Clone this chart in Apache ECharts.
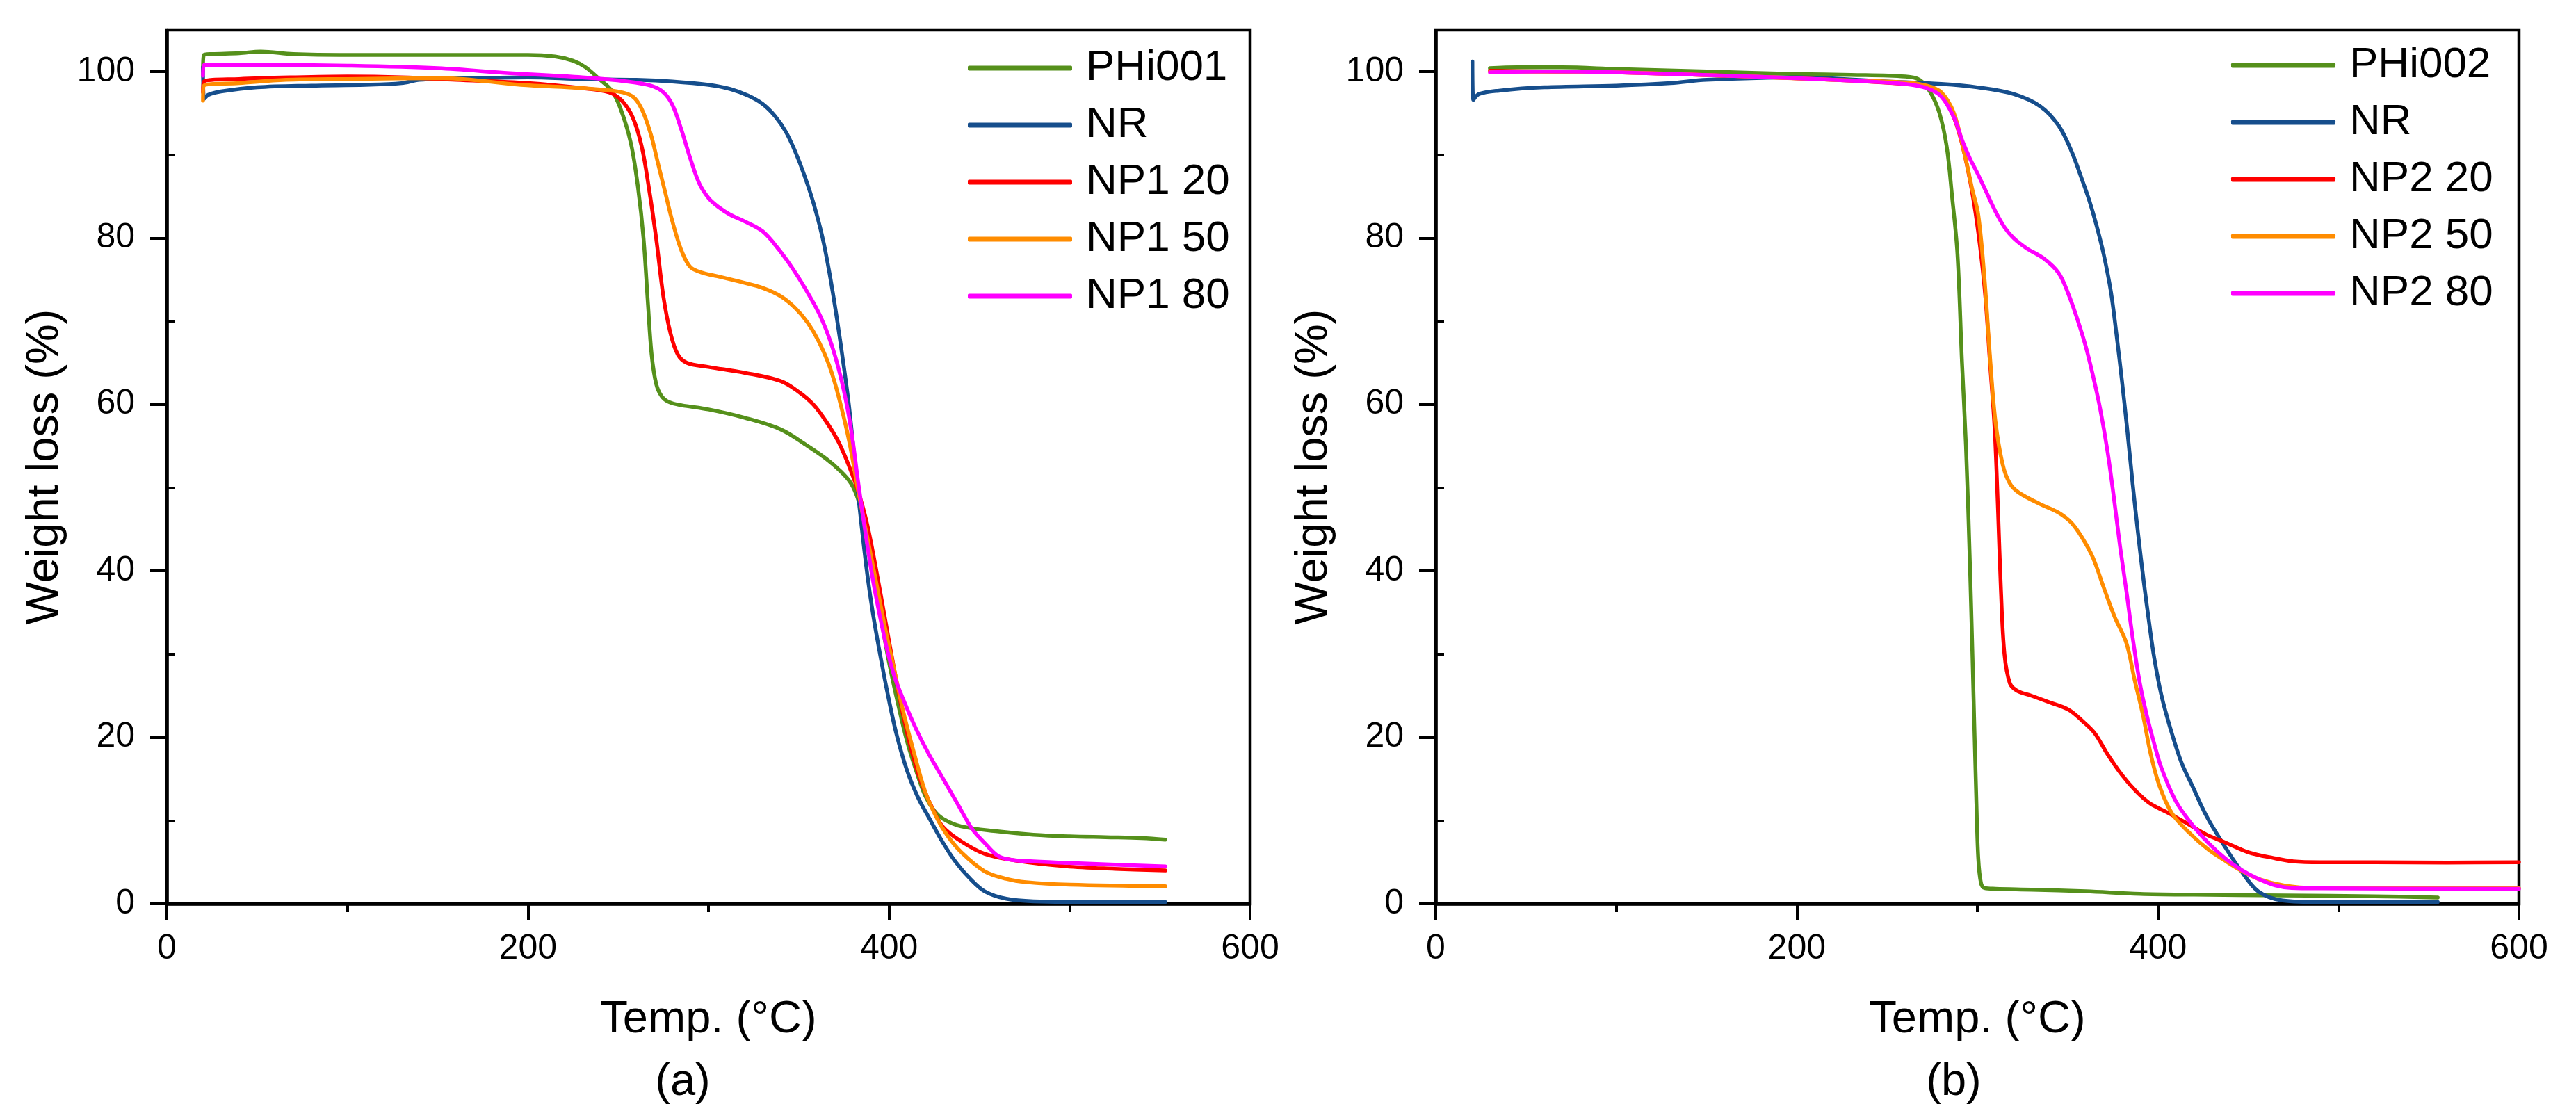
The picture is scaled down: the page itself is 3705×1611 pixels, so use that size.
<!DOCTYPE html>
<html>
<head>
<meta charset="utf-8">
<script src="https://cdn.jsdelivr.net/npm/echarts@6/dist/echarts.min.js"></script>
<style>
html,body{margin:0;padding:0;background:#fff;}
#chart{width:3705px;height:1611px;}
</style>
</head>
<body>
<div id="chart"></div>
<script>
// ---------- Panel (a) ----------
const a_PHi001_T = [20, 20.5, 25, 40, 52, 70, 100, 150, 200, 215, 225, 232, 240, 246, 251, 257, 261, 264, 266.5, 268.5, 271, 274, 278, 285, 300, 320, 340, 355, 365, 373, 379, 383, 387, 391, 395, 400, 405, 410, 415, 420, 425, 430, 440, 460, 480, 500, 520, 540, 553];
const a_PHi001_W = [100, 102, 102.1, 102.2, 102.4, 102.1, 102.0, 102.0, 102.0, 101.8, 101.3, 100.5, 99, 97.8, 95.7, 91.4, 86, 80, 72, 66, 62.5, 61, 60.3, 59.9, 59.4, 58.4, 57, 55, 53.5, 52, 50.5, 48.5, 45, 40, 35, 29, 24, 19.5, 16, 13, 11.2, 10.2, 9.3, 8.7, 8.3, 8.1, 8.0, 7.9, 7.7];

const a_NR_T = [20, 20.6, 23, 30, 50, 80, 110, 130, 140, 170, 200, 230, 260, 280, 300, 312, 322, 330, 337, 343, 348, 353, 358, 363, 367, 371, 375, 378, 382, 385, 388, 391, 394.6, 399, 404, 410, 416, 423, 430, 437, 445, 453, 465, 480, 520, 553];
const a_NR_W = [100.5, 96.7, 97.2, 97.6, 98.1, 98.3, 98.4, 98.6, 99, 99.2, 99.3, 99.1, 99, 98.8, 98.4, 97.9, 97.1, 96.1, 94.6, 92.7, 90.4, 87.6, 84.3, 80.2, 75.8, 70.5, 64.5, 59.5, 51, 45, 39.5, 35, 30.5, 25.5, 20.5, 16, 12.8, 10, 7.3, 5, 3, 1.5, 0.6, 0.3, 0.2, 0.2];

const a_NP120_T = [20, 20.5, 40, 70, 100, 130, 160, 200, 230, 245, 252, 258, 263, 267, 271, 275, 279, 283, 288, 300, 320, 340, 350, 358, 365, 372, 378, 383, 388, 393, 398, 403, 408, 413, 418, 424, 430, 440, 453, 470, 498, 525, 553];
const a_NP120_W = [97.5, 98.8, 99.1, 99.3, 99.4, 99.3, 99, 98.6, 98, 97.5, 96.5, 94.5, 91, 86, 80, 73, 68.5, 66, 65, 64.5, 63.8, 62.8, 61.5, 60, 58, 55.5, 52.5, 49.5, 45.5, 40, 34, 28, 22.5, 18, 14.5, 11.5, 9.2, 7.5, 6, 5.2, 4.5, 4.2, 4.0];

const a_NP150_T = [20, 20.5, 40, 66, 100, 153, 196, 230, 250, 258, 263, 268, 272, 276, 280, 285, 290, 297, 305, 320, 330, 340, 348, 355, 361, 367, 372, 378, 383, 388, 393, 398, 403, 408, 414, 420, 426, 432, 440, 453, 465, 476, 500, 553];
const a_NP150_W = [96.5, 98.3, 98.6, 99.0, 99.1, 99.2, 98.4, 98, 97.6, 97, 95.5, 92.5, 89, 85.5, 82, 78.5, 76.5, 75.8, 75.4, 74.6, 74, 73, 71.6, 69.8, 67.6, 64.6, 61, 55.5, 49.5, 44, 38.5, 33, 28, 23, 18, 13.5, 10.5, 8.3, 6.2, 3.9, 3, 2.6, 2.3, 2.1];

const a_NP180_T = [20, 20.5, 50, 100, 150, 190, 230, 255, 268, 275, 280, 285, 290, 295, 300, 305, 312, 320, 330, 339, 347, 355, 362, 368, 373, 377, 380, 383, 387, 391, 395, 399, 403, 408, 415, 422, 430, 438, 446, 453, 460, 467, 480, 500, 525, 553];
const a_NP180_W = [99.5, 100.8, 100.8, 100.7, 100.4, 99.8, 99.3, 98.8, 98.3, 97.5, 96, 93, 89.5, 86.5, 84.8, 83.8, 82.8, 82, 80.8, 78.6, 76.2, 73.4, 70.6, 67.3, 63.5, 59.5, 55.5, 50.5, 44.5, 39, 34.5, 30.5, 27.3, 24.5, 21, 18, 15, 12, 9, 7.3, 5.8, 5.3, 5.1, 4.9, 4.7, 4.5];

// ---------- Panel (b) ----------
const b_PHi002_T = [30, 45, 70, 100, 150, 200, 230, 260, 268, 274, 279, 283, 286, 289, 291.5, 293.7, 296, 298, 299.5, 300.5, 302, 304, 310, 330, 360, 390, 420, 470, 520, 555];
const b_PHi002_W = [100.4, 100.5, 100.5, 100.3, 100, 99.7, 99.6, 99.4, 99, 97.5, 95, 91, 85, 78, 65, 55, 40, 24, 12, 5.5, 2.5, 1.9, 1.8, 1.7, 1.5, 1.2, 1.1, 1.0, 0.9, 0.75];

const b_NR_T = [20.3, 20.8, 24, 35, 60, 100, 130, 150, 200, 250, 280, 300, 320, 335, 345, 352, 358, 362, 366, 370, 374, 377, 380, 383, 386, 389, 392, 395, 398, 402, 407, 413, 419, 427, 437, 445, 455.5, 469, 490, 555];
const b_NR_W = [101.2, 96.6, 97.3, 97.7, 98.1, 98.3, 98.6, 99, 99.3, 98.8, 98.5, 98.1, 97.3, 95.8, 93.5, 90.5, 87, 84.5, 81.5, 78, 73.5, 68.5, 63, 57, 50.5, 44.5, 39, 34, 29.5, 25, 21, 17, 14.2, 10.5, 6.9, 4.3, 1.5, 0.4, 0.2, 0.2];

const b_NP220_T = [30, 60, 100, 160, 220, 260, 272, 280, 287, 293, 299, 304, 307, 309.6, 311.5, 313, 315, 318, 322, 330, 340, 350.7, 358, 365, 372, 380, 388, 396, 405, 415, 427, 437, 450, 464, 475, 490, 520, 560, 600];
const b_NP220_W = [100.1, 100, 99.9, 99.5, 99, 98.5, 98.2, 97.2, 94.5, 90, 83, 74, 65, 57, 47, 38, 30, 26.5, 25.6, 25, 24.2, 23.3, 22, 20.5, 18, 15.5, 13.5, 12, 11, 9.8, 8.3, 7.4, 6.2, 5.5, 5.1, 5.0, 5.0, 4.95, 5.0];

const b_NP250_T = [30, 100, 160, 220, 260, 272, 280, 287, 293, 297, 300.5, 304, 307, 310, 314, 318, 323, 335, 345, 352, 358, 364, 370, 376, 382.6, 387, 391.7, 396, 400.8, 408, 419, 428, 437, 446, 455.5, 470, 487, 520, 600];
const b_NP250_W = [100, 99.9, 99.5, 99, 98.7, 98.3, 97.5, 95, 90, 86, 82.8, 75, 65.7, 58, 52.8, 50.5, 49.4, 48, 47, 45.8, 44, 41.6, 38, 34.5, 31.3, 27, 22.7, 18, 14.2, 10.8, 8.2, 6.5, 5.2, 4, 3, 2.2, 1.9, 1.9, 1.85];

const b_NP280_T = [30, 60, 100, 160, 200, 240, 260, 272, 280, 287, 292, 296, 300, 305, 310, 315, 320, 327, 337, 345, 350, 355, 360, 364, 368, 372, 375.5, 379, 382.6, 386, 390, 394, 398, 402, 410, 419, 428, 437, 446, 455.5, 465, 474, 490, 600];
const b_NP280_W = [99.9, 100, 99.9, 99.5, 99.2, 98.8, 98.5, 98, 97, 94.5, 91.5, 89.5, 87.8, 85.5, 83.2, 81.3, 80, 78.8, 77.5, 75.8, 73.5, 70.5, 67, 63.5, 59.5, 54.5, 49, 43, 37.5, 32, 26.5, 22.5, 19.2, 16.3, 12.3, 9.5, 7.3, 5.5, 4.1, 3, 2.2, 1.9, 1.85, 1.8];

const namesA = ['PHi001', 'NR', 'NP1 20', 'NP1 50', 'NP1 80'];
const namesB = ['PHi002', 'NR', 'NP2 20', 'NP2 50', 'NP2 80'];
const colors = ['#55901b', '#164e8c', '#ff0000', '#ff8c00', '#ff00ff'];
const yTicks = [0, 20, 40, 60, 80, 100];
const yMinorTicks = [10, 30, 50, 70, 90];

const seriesA = [[a_PHi001_T, a_PHi001_W], [a_NR_T, a_NR_W], [a_NP120_T, a_NP120_W], [a_NP150_T, a_NP150_W], [a_NP180_T, a_NP180_W]];
const seriesB = [[b_PHi002_T, b_PHi002_W], [b_NR_T, b_NR_W], [b_NP220_T, b_NP220_W], [b_NP250_T, b_NP250_W], [b_NP280_T, b_NP280_W]];

const FONT = "'Liberation Sans', Arial, sans-serif";
const zip = (t, w) => t.map((v, i) => [v, w[i]]);

function mkX(gi) {
  return {
    type: 'value', gridIndex: gi, min: 0, max: 600, interval: 200,
    name: 'Temp. (°C)', nameLocation: 'middle', nameGap: 135,
    nameTextStyle: { fontFamily: FONT, fontSize: 65, color: '#000' },
    axisLine: { show: true, onZero: false, lineStyle: { color: '#000', width: 4.5 } },
    axisTick: { show: true, inside: false, length: 24, lineStyle: { color: '#000', width: 4 } },
    minorTick: { show: true, splitNumber: 2, length: 12, lineStyle: { color: '#000', width: 4 } },
    axisLabel: { fontFamily: FONT, fontSize: 50, color: '#000', margin: 40 },
    splitLine: { show: false }, minorSplitLine: { show: false }
  };
}
function mkY(gi) {
  return {
    type: 'value', gridIndex: gi, min: 0, max: 105,
    name: 'Weight loss (%)', nameLocation: 'middle', nameGap: 142,
    nameTextStyle: { fontFamily: FONT, fontSize: 65, color: '#000' },
    axisLine: { show: true, onZero: false, lineStyle: { color: '#000', width: 4.5 } },
    axisTick: { show: true, inside: false, length: 24, customValues: yTicks, lineStyle: { color: '#000', width: 4 } },
    axisLabel: { fontFamily: FONT, fontSize: 50, color: '#000', margin: 46, customValues: yTicks },
    splitLine: { show: false }
  };
}
function mkYMinor(gi) {
  return {
    type: 'value', gridIndex: gi, min: 0, max: 105,
    axisLine: { show: false },
    axisTick: { show: true, inside: false, length: 12, customValues: yMinorTicks, lineStyle: { color: '#000', width: 4 } },
    axisLabel: { show: false },
    splitLine: { show: false }
  };
}
function mkSeries(list, names, xi, yi) {
  return list.map((p, i) => ({
    name: names[i], type: 'line', xAxisIndex: xi, yAxisIndex: yi,
    data: zip(p[0], p[1]), symbol: 'none', showSymbol: false,
    smooth: 0.35,
    lineStyle: { color: colors[i], width: 5.5, cap: 'round', join: 'round' },
    itemStyle: { color: colors[i] },
    z: 3, animation: false
  }));
}
function mkLegend(names, left, top) {
  return {
    data: names.map(n => ({ name: n, icon: 'roundRect' })),
    orient: 'vertical', left: left, top: top, padding: 0,
    itemWidth: 150, itemHeight: 7, itemGap: 20,
    textStyle: { fontFamily: FONT, fontSize: 62, color: '#000', lineHeight: 62, padding: [0, 0, 0, 15] },
    selectedMode: false
  };
}

const chart = echarts.init(document.getElementById('chart'), null, { renderer: 'canvas' });
chart.setOption({
  animation: false,
  backgroundColor: '#fff',
  grid: [
    { left: 240, top: 43, width: 1558, height: 1257, show: true, borderColor: '#000', borderWidth: 4.5, backgroundColor: 'transparent' },
    { left: 2065, top: 43, width: 1558, height: 1257, show: true, borderColor: '#000', borderWidth: 4.5, backgroundColor: 'transparent' }
  ],
  xAxis: [mkX(0), mkX(1)],
  yAxis: [mkY(0), mkYMinor(0), mkY(1), mkYMinor(1)],
  legend: [mkLegend(namesA, 1392, 67), mkLegend(namesB, 3209, 63)],
  graphic: [
    { type: 'text', x: 982, y: 1557, style: { text: '(a)', fontFamily: FONT, fontSize: 65, fill: '#000', textAlign: 'center', textVerticalAlign: 'middle' } },
    { type: 'text', x: 2810, y: 1557, style: { text: '(b)', fontFamily: FONT, fontSize: 65, fill: '#000', textAlign: 'center', textVerticalAlign: 'middle' } }
  ],
  series: mkSeries(seriesA, namesA, 0, 0).concat(mkSeries(seriesB, namesB, 1, 2))
});
</script>
</body>
</html>
